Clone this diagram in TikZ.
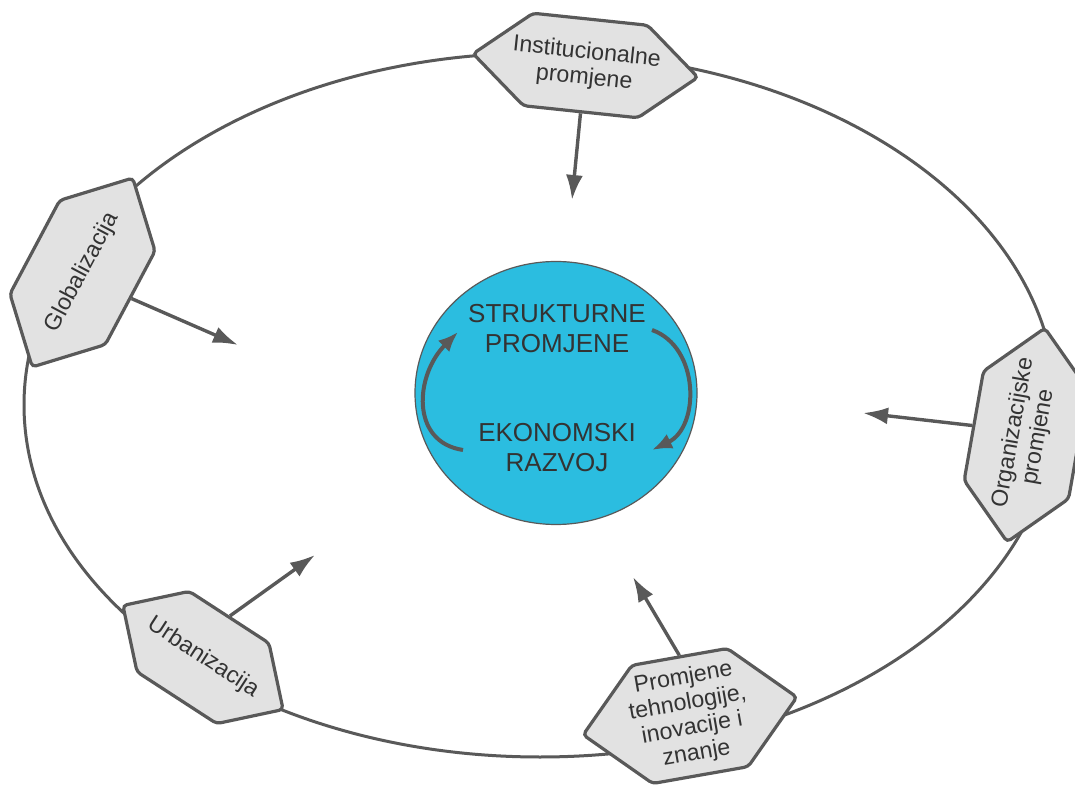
\documentclass[tikz,border=0pt]{standalone}
\usepackage{fontspec}
\setmainfont{Liberation Sans}
\definecolor{edgegray}{RGB}{89,89,89}
\definecolor{hexgray}{RGB}{226,226,226}
\definecolor{textgray}{RGB}{51,51,51}
\definecolor{coreblue}{RGB}{43,189,224}
\usepackage{tikz}
\usetikzlibrary{shapes,positioning,arrows.meta}

\begin{document}
\begin{tikzpicture}[x=0.5pt,y=0.5pt]
\tikzstyle{hex}=[signal, signal to=east and west, signal pointer angle=90, rounded corners=2pt, line width=1.6pt, draw=edgegray, fill=hexgray, text=textgray, inner xsep=-30pt, inner ysep=0pt, align=center, font=\fontsize{11.6}{12.8}\selectfont]
\tikzstyle{core}=[ellipse, minimum width=141pt, minimum height=131.5pt, draw=edgegray, line width=0.6pt, fill=coreblue]
\tikzstyle{big}=[text=textgray, align=center, font=\fontsize{13}{15}\selectfont]
\tikzstyle{connect}=[-{Latex[length=12.5pt,width=8.5pt]}, line width=1.7pt, draw=edgegray]
\tikzstyle{swirl}=[-{Latex[length=10pt,width=8pt]}, line width=2pt, draw=edgegray]
\useasboundingbox (0,0) rectangle (1075,787);

	% outer ring
	\draw[edgegray, line width=1.5pt] (540,382) ellipse [x radius=516, y radius=352];

	% centre
	\node[core] (core) at (556,394) {};
	\node[big] (struct) at (557,458.5) {STRUKTURNE\\PROMJENE};
	\node[big] (econ) at (557,339) {EKONOMSKI\\RAZVOJ};

	\coordinate (s_1) at (652,457);
	\coordinate (s_2) at (652,337);
	\coordinate (e_1) at (463,337);
	\coordinate (e_2) at (458,455);
	\draw[swirl] (s_1) .. controls (700,440) and (700,360) .. (s_2);
	\draw[swirl] (e_1) .. controls (410,345) and (415,412) .. (e_2);

	% factors on the ring
	\node[hex, rotate=-6, minimum width=113pt, minimum height=46.5pt, signal pointer angle=80] (inst) at (585.5,721.5) {Institucionalne\\promjene};
	\node[hex, rotate=62, minimum width=107pt, minimum height=54pt] (glob) at (82.5,514.5) {Globalizacija};
	\node[hex, rotate=80, minimum width=108.5pt, minimum height=53pt] (org) at (1026,352) {Organizacijske\\promjene};
	\node[hex, rotate=-33, minimum width=95.5pt, minimum height=48pt] (urb) at (203,129.5) {Urbanizacija};
	\node[hex, rotate=10, minimum width=108.5pt, minimum height=60pt] (tech) at (690,71) {Promjene\\tehnologije,\\inovacije i\\znanje};

	\coordinate (inst_2) at (572,587);
	\coordinate (glob_2) at (238,442);
	\coordinate (org_2) at (863,374);
	\coordinate (urb_2) at (315,232);
	\coordinate (tech_2) at (633,210);

	\draw[connect] (inst.south) -- (inst_2);
	\draw[connect] (glob.south) -- (glob_2);
	\draw[connect] (org.north) -- (org_2);
	\draw[connect] (urb.north) -- (urb_2);
	\draw[connect] (tech.north) -- (tech_2);

\end{tikzpicture}
\end{document}
